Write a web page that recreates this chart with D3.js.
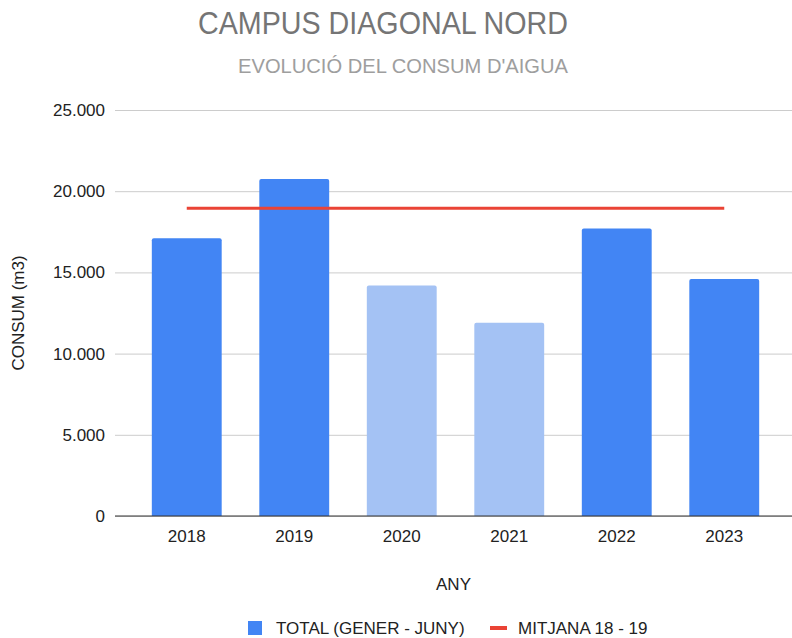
<!DOCTYPE html>
<html>
<head>
<meta charset="utf-8">
<script src="https://cdn.jsdelivr.net/npm/d3@7"></script>
<style>
  body { margin: 0; background: #fff; }
  svg { font-family: "Liberation Sans", Arial, sans-serif; }
</style>
</head>
<body>
<main></main>
<script>
// data
const years = ['2018', '2019', '2020', '2021', '2022', '2023'];
const totals = [17100, 20750, 14200, 11900, 17700, 14600];
const average = [18950, 18950, 18950, 18950, 18950, 18950];
const lightYears = ['2020', '2021'];
const yTicks = [0, 5000, 10000, 15000, 20000, 25000];

const width = 792;
const height = 638;
const plotLeft = 115;
const plotRight = 792;
const plotTop = 110;
const plotBottom = 516;

const svg = d3.select('main')
  .append('svg')
  .attr('width', width)
  .attr('height', height);

// scales
const xScale = d3.scaleBand()
  .domain(years)
  .range([133, 778])
  .paddingInner(0.35)
  .paddingOuter(0.175);

const yScale = d3.scaleLinear()
  .domain([0, 25000])
  .range([plotBottom, plotTop]);

const fmt = d => d === 0 ? '0' : d3.format(',')(d).replace(/,/g, '.');

// titles
svg.append('text')
  .text('CAMPUS DIAGONAL NORD')
  .attr('x', 198)
  .attr('y', 34)
  .attr('font-size', 31)
  .attr('textLength', 370)
  .attr('lengthAdjust', 'spacingAndGlyphs')
  .attr('fill', '#757575');

svg.append('text')
  .text("EVOLUCIÓ DEL CONSUM D'AIGUA")
  .attr('x', 238)
  .attr('y', 73)
  .attr('font-size', 21)
  .attr('textLength', 330)
  .attr('lengthAdjust', 'spacingAndGlyphs')
  .attr('fill', '#9e9e9e');

// gridlines + y axis labels
const yAxis = d3.axisLeft(yScale)
  .tickValues(yTicks)
  .tickSize(-(plotRight - plotLeft))
  .tickPadding(10)
  .tickFormat(fmt);

const yg = svg.append('g')
  .attr('transform', `translate(${plotLeft}, 0)`)
  .call(yAxis);
yg.select('.domain').remove();
yg.selectAll('line').attr('stroke', '#cccccc');
yg.selectAll('text')
  .attr('font-size', 17)
  .attr('fill', '#222')
  .attr('font-family', '"Liberation Sans", Arial, sans-serif');

// bars with slightly rounded tops
const r = 2;
svg.selectAll('path.bar')
  .data(years)
  .enter()
  .append('path')
  .attr('class', 'bar')
  .attr('fill', (d) => lightYears.includes(d) ? '#a4c2f4' : '#4285f4')
  .attr('d', (d, i) => {
    const x0 = xScale(d);
    const x1 = x0 + xScale.bandwidth();
    const y0 = yScale(totals[i]);
    const yb = yScale(0);
    return `M${x0},${yb}V${y0 + r}Q${x0},${y0} ${x0 + r},${y0}H${x1 - r}Q${x1},${y0} ${x1},${y0 + r}V${yb}Z`;
  });

// baseline
svg.append('line')
  .attr('x1', plotLeft)
  .attr('x2', plotRight)
  .attr('y1', yScale(0))
  .attr('y2', yScale(0))
  .attr('stroke', '#333')
  .attr('stroke-width', 1.2);

// x axis labels
const xAxis = d3.axisBottom(xScale)
  .tickSize(0)
  .tickPadding(14);
const xg = svg.append('g')
  .attr('transform', `translate(0, ${plotBottom})`)
  .call(xAxis);
xg.select('.domain').remove();
xg.selectAll('text')
  .attr('font-size', 17)
  .attr('fill', '#222')
  .attr('font-family', '"Liberation Sans", Arial, sans-serif');

// average line
const line = d3.line()
  .x((d, i) => xScale(years[i]) + xScale.bandwidth() / 2)
  .y(d => yScale(d));

svg.append('path')
  .datum(average)
  .attr('d', line)
  .attr('fill', 'none')
  .attr('stroke', '#ea4335')
  .attr('stroke-width', 3);

// axis titles
svg.append('text')
  .text('ANY')
  .attr('x', (plotLeft + plotRight) / 2)
  .attr('y', 590)
  .attr('text-anchor', 'middle')
  .attr('font-size', 17)
  .attr('fill', '#222');

svg.append('text')
  .text('CONSUM (m3)')
  .attr('transform', `translate(24, ${(plotTop + plotBottom) / 2}) rotate(-90)`)
  .attr('text-anchor', 'middle')
  .attr('font-size', 17)
  .attr('fill', '#222');

// legend
const legend = svg.append('g').attr('transform', 'translate(0, 628)');
legend.append('rect')
  .attr('x', 248).attr('y', -7)
  .attr('width', 14).attr('height', 14)
  .attr('fill', '#4285f4');
legend.append('text')
  .text('TOTAL (GENER - JUNY)')
  .attr('x', 276).attr('y', 6)
  .attr('font-size', 17)
  .attr('fill', '#222');
legend.append('line')
  .attr('x1', 490).attr('x2', 507)
  .attr('y1', 0).attr('y2', 0)
  .attr('stroke', '#ea4335')
  .attr('stroke-width', 4);
legend.append('text')
  .text('MITJANA 18 - 19')
  .attr('x', 518).attr('y', 6)
  .attr('font-size', 17)
  .attr('fill', '#222');
</script>
</body>
</html>
